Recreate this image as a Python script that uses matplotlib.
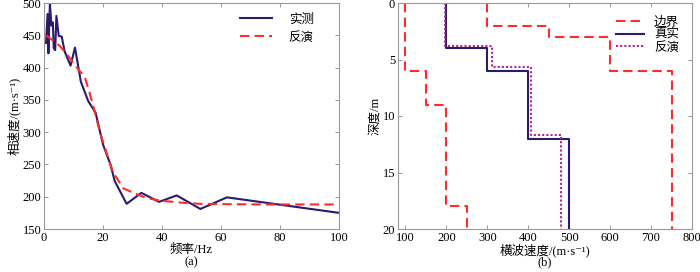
import numpy as np
import matplotlib
matplotlib.use("Agg")
import matplotlib.pyplot as plt

plt.rcParams['font.family'] = ['Liberation Serif', 'Noto Sans CJK SC', 'DejaVu Sans']
plt.rcParams['font.size'] = 9

# (a) dispersion curve
freq_obs = [0.7, 1.2, 1.5, 2.0, 2.5, 3.0, 3.3, 3.8, 4.2, 5.0, 6.0, 7.0, 9.0, 10.5,
            12.5, 15.0, 17.5, 20.0, 22.5, 24.0, 28.0, 33.0, 39.0, 45.0, 53.0, 62.0, 100.0]
vel_obs = [438, 483, 422, 500, 465, 470, 430, 427, 480, 449, 448, 425, 403, 431,
           378, 348, 330, 281, 250, 224, 189, 206, 192, 202, 181, 199, 175]
freq_inv = [0.7, 3, 5, 7, 10, 12, 13.8, 15.5, 17, 18.9, 21.2, 23.5, 26.9, 30.3,
            34.8, 39.3, 46, 53, 60, 75, 100]
vel_inv = [450, 442, 435, 425, 407, 395, 386, 360, 335, 301, 268, 237, 213, 206,
           198, 194, 191, 189, 188.5, 188, 188]

# (b) shear-wave profiles: layer tops, bottoms and velocities
lo_top = [0, 6, 9, 18]
lo_bot = [6, 9, 18, 20]
lo_vs = [100, 150, 200, 250]
hi_top = [0, 2, 3, 6]
hi_bot = [2, 3, 6, 20]
hi_vs = [300, 450, 600, 750]
true_top = [0, 4, 6, 12]
true_bot = [4, 6, 12, 20]
true_vs = [200, 300, 400, 500]
inv_top = [0, 3.8, 5.7, 11.7]
inv_bot = [3.8, 5.7, 11.7, 20]
inv_vs = [197, 312, 408, 481]

navy = '#2b1a6e'
red = '#ff2a2a'
magenta = '#b5287f'


def profile(top, bot, vs):
    z = np.column_stack([top, bot]).ravel()
    v = np.repeat(vs, 2)
    return v, z


def style(ax):
    ax.tick_params(direction='in', top=True, right=True, length=3, width=0.6,
                   color='#888888', pad=2)
    for s in ax.spines.values():
        s.set_color('#999999')
        s.set_linewidth(0.8)


fig = plt.figure(figsize=(7, 2.72), dpi=100)
ax1 = fig.add_axes([44/700, 1-229/272, 295/700, 226/272])
ax2 = fig.add_axes([398/700, 1-229/272, 294/700, 226/272])

ax1.plot(freq_obs, vel_obs, color=navy, lw=1.5, label='实测')
ax1.plot(freq_inv, vel_inv, color=red, lw=1.5, dashes=(4.5, 2.5), label='反演')
ax1.set_xlim(0, 100)
ax1.set_ylim(150, 500)
ax1.set_xticks(range(0, 101, 20))
ax1.set_yticks(range(150, 501, 50))
ax1.set_xlabel('频率/Hz', labelpad=0)
ax1.set_ylabel('相速度/(m·s⁻¹)', labelpad=1)
ax1.text(0.5, -0.146, '(a)', transform=ax1.transAxes, ha='center', va='center')
ax1.legend(loc='upper right', frameon=False, handlelength=2.6, handletextpad=1.3,
           borderaxespad=0.45, labelspacing=0.45, bbox_to_anchor=(0.95, 1.0))
style(ax1)

v, z = profile(lo_top, lo_bot, lo_vs)
ax2.plot(v, z, color=red, lw=1.5, dashes=(4.5, 2.5), label='边界')
v, z = profile(hi_top, hi_bot, hi_vs)
ax2.plot(v, z, color=red, lw=1.5, dashes=(4.5, 2.5))
v, z = profile(true_top, true_bot, true_vs)
ax2.plot(v, z, color=navy, lw=1.5, label='真实')
v, z = profile(inv_top, inv_bot, inv_vs)
ax2.plot(v, z, color=magenta, lw=1.5, dashes=(1, 1), label='反演')
ax2.set_xlim(82, 800)
ax2.set_ylim(20, 0)
ax2.set_xticks(range(100, 801, 100))
ax2.set_yticks(range(0, 21, 5))
ax2.set_xlabel('横波速度/(m·s⁻¹)', labelpad=0)
ax2.set_ylabel('深度/m', labelpad=1)
ax2.text(0.5, -0.146, '(b)', transform=ax2.transAxes, ha='center', va='center')
ax2.legend(loc='upper right', frameon=False, handlelength=2.2, handletextpad=0.8,
           borderaxespad=0.65, labelspacing=0.05)
style(ax2)

fig.savefig('out.png', dpi=100)
